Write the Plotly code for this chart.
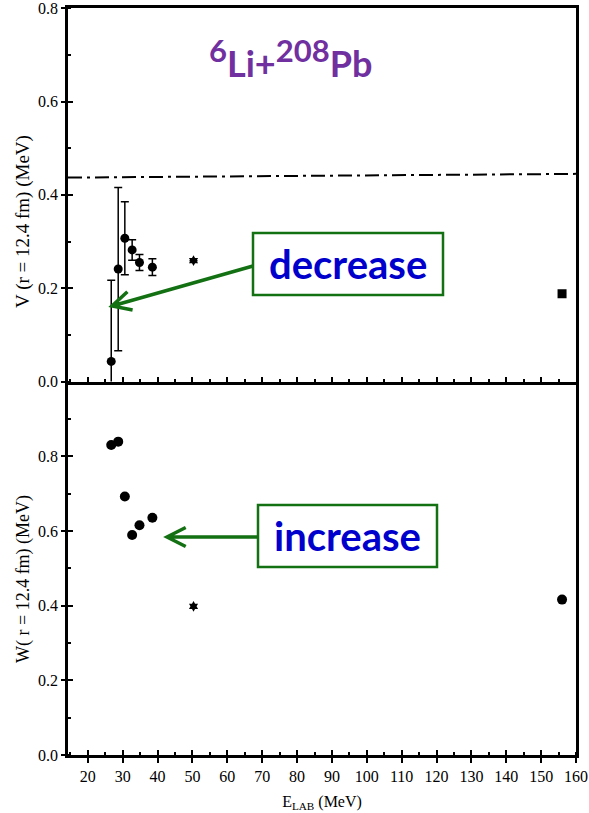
import math
import plotly.graph_objects as go

# Laboratory energies of the 6Li + 208Pb measurements (MeV)
E_LAB = [26.7, 28.7, 30.6, 32.7, 34.8, 38.5, 50.3, 156.0]
# Real potential V at r = 12.4 fm (MeV) with uncertainties
V_VAL = [0.043, 0.241, 0.307, 0.282, 0.255, 0.245, 0.259, 0.188]
V_ERR = [0.174, 0.175, 0.078, 0.022, 0.017, 0.018, 0.0, 0.0]
# Imaginary potential W at r = 12.4 fm (MeV)
W_VAL = [0.830, 0.839, 0.692, 0.589, 0.615, 0.635, 0.398, 0.416]
# Marker shape for each data set
V_SYMBOLS = ["circle"] * 6 + ["hexagram", "square"]
W_SYMBOLS = ["circle"] * 6 + ["hexagram", "circle"]
V_SIZES = [9] * 6 + [8, 9]
W_SIZES = [10] * 6 + [8, 10]
# Dash-dotted reference level in the V panel
LIMIT_E = [14.3, 160.0]
LIMIT_V = [0.437, 0.445]

X_RANGE = [14.3, 160.0]
X_TICKS = list(range(20, 161, 10))
V_RANGE = [0, 0.8005]
W_RANGE = [0, 1.0]
V_TICKS = [0.0, 0.2, 0.4, 0.6, 0.8]
W_TICKS = [0.0, 0.2, 0.4, 0.6, 0.8]

FIG_W, FIG_H = 589, 813
M_L, M_R, M_T, M_B = 68, 13, 8, 58
PLOT_W = FIG_W - M_L - M_R
PLOT_H = FIG_H - M_T - M_B

SERIF = "Liberation Serif"
GREEN = "#137013"
BLUE = "#0000CC"
PURPLE = "#7030A0"
AX_W = 2.5


def px(x, y):
    """Convert page pixels into paper coordinates."""
    return (x - M_L) / PLOT_W, 1 - (y - M_T) / PLOT_H


fig = go.Figure()

# V panel (top)
fig.add_trace(go.Scatter(
    x=LIMIT_E, y=LIMIT_V, mode="lines", xaxis="x2", yaxis="y2",
    line=dict(color="black", width=2, dash="14px,5px,3px,5px"),
    hoverinfo="skip", showlegend=False))
fig.add_trace(go.Scatter(
    x=E_LAB, y=V_VAL, mode="markers", xaxis="x2", yaxis="y2",
    marker=dict(color="black", size=V_SIZES, symbol=V_SYMBOLS, opacity=1,
                line=dict(width=0)),
    error_y=dict(type="data", array=V_ERR, color="black", thickness=1.5, width=4),
    showlegend=False))

# W panel (bottom)
fig.add_trace(go.Scatter(
    x=E_LAB, y=W_VAL, mode="markers", xaxis="x", yaxis="y",
    marker=dict(color="black", size=W_SIZES, symbol=W_SYMBOLS, opacity=1,
                line=dict(width=0)),
    showlegend=False))

# empty traces so the tick-overlay axes are laid out
for xa, ya in (("x3", "y"), ("x", "y3"), ("x2", "y4")):
    fig.add_trace(go.Scatter(x=[], y=[], xaxis=xa, yaxis=ya, showlegend=False,
                             hoverinfo="skip"))

tick_font = dict(family=SERIF, size=16, color="black")
common_x = dict(range=X_RANGE, showgrid=False, zeroline=False, automargin=False,
                showline=True, linecolor="black", linewidth=AX_W,
                tickmode="array", tickvals=X_TICKS, tickcolor="black",
                tickwidth=2, tickfont=tick_font, ticklabeloverflow="allow")
common_y = dict(showgrid=False, zeroline=False, showline=True, automargin=False,
                linecolor="black", linewidth=AX_W, mirror=True,
                tickmode="array", tickformat=".1f", tickcolor="black",
                tickwidth=2, tickfont=tick_font, ticklabeloverflow="allow")
overlay = dict(showline=False, showgrid=False, zeroline=False, automargin=False,
               tickmode="array", ticks="inside", ticklen=5, tickwidth=2,
               tickcolor="black", showticklabels=False)
minor_x = dict(dtick=5, tick0=15, ticks="inside", ticklen=3, tickwidth=2,
               tickcolor="black")
minor_y = dict(dtick=0.1, tick0=0, ticks="inside", ticklen=3, tickwidth=2,
               tickcolor="black")

fig.update_layout(
    width=FIG_W, height=FIG_H,
    margin=dict(l=M_L, r=M_R, t=M_T, b=M_B, pad=0, autoexpand=False),
    paper_bgcolor="white", plot_bgcolor="white",
    showlegend=False,
    xaxis=dict(common_x, domain=[0, 1], anchor="y", ticks="outside", ticklen=5,
               mirror=False, minor=minor_x,
               title=dict(text="E<sub>LAB</sub> (MeV)",
                          font=dict(family=SERIF, size=16, color="black"),
                          standoff=12)),
    xaxis2=dict(common_x, domain=[0, 1], anchor="y2", matches="x", mirror=True,
                ticks="inside", ticklen=5, showticklabels=False, minor=minor_x),
    xaxis3=dict(overlay, range=X_RANGE, overlaying="x", anchor="y", matches="x",
                tickvals=X_TICKS),
    yaxis=dict(common_y, domain=[0, 0.5], anchor="x", range=W_RANGE,
               tickvals=W_TICKS, ticks="outside", ticklen=4, minor=minor_y),
    yaxis2=dict(common_y, domain=[0.5, 1], anchor="x2", range=V_RANGE,
                tickvals=V_TICKS, ticks="outside", ticklen=4, minor=minor_y),
    yaxis3=dict(overlay, overlaying="y", anchor="x", range=W_RANGE,
                tickvals=W_TICKS),
    yaxis4=dict(overlay, overlaying="y2", anchor="x2", range=V_RANGE,
                tickvals=V_TICKS),
)


def text_at(x, y, text, size, family, color, angle=0):
    p = px(x, y)
    fig.add_annotation(text=text, xref="paper", yref="paper", x=p[0], y=p[1],
                       xanchor="center", yanchor="middle", textangle=angle,
                       showarrow=False,
                       font=dict(family=family, size=size, color=color))


# Rotated axis titles
text_at(23, 222, "V (r = 12.4 fm) (MeV)", 19, SERIF, "black", -90)
text_at(23, 579, "W( r = 12.4 fm) (MeV)", 18, SERIF, "black", -90)

# Reaction label
text_at(290, 58,
        '<b><sup><span style="font-size:31px">6</span></sup>Li+'
        '<sup><span style="font-size:31px">208</span></sup>Pb</b>',
        36, "Lato", PURPLE)


def label_box(x0, y0, x1, y1, text, cx, cy):
    p0 = px(x0, y0)
    p1 = px(x1, y1)
    fig.add_shape(type="rect", xref="paper", yref="paper",
                  x0=p0[0], y0=p1[1], x1=p1[0], y1=p0[1],
                  line=dict(color=GREEN, width=2.5), fillcolor="white",
                  layer="above")
    text_at(cx, cy, f"<b>{text}</b>", 40, "Lato", BLUE)


def chevron_arrow(tail, tip, arm=21, spread=27):
    ang = math.atan2(tail[1] - tip[1], tail[0] - tip[0])
    pts = []
    for s in (-1, 1):
        a = ang + s * math.radians(spread)
        pts.append((tip[0] + arm * math.cos(a), tip[1] + arm * math.sin(a)))
    t0 = px(*tail)
    t1 = px(*tip)
    a0 = px(*pts[0])
    a1 = px(*pts[1])
    path = (f"M {t0[0]},{t0[1]} L {t1[0]},{t1[1]} "
            f"M {a0[0]},{a0[1]} L {t1[0]},{t1[1]} L {a1[0]},{a1[1]}")
    fig.add_shape(type="path", xref="paper", yref="paper", path=path,
                  line=dict(color=GREEN, width=3.5), layer="above")


chevron_arrow((253, 266), (112, 306))
label_box(253, 233, 443, 295, "decrease", 348, 264)
chevron_arrow((258, 537), (167, 537))
label_box(258, 505, 437, 567, "increase", 347, 536)

fig.write_html("out.html")
